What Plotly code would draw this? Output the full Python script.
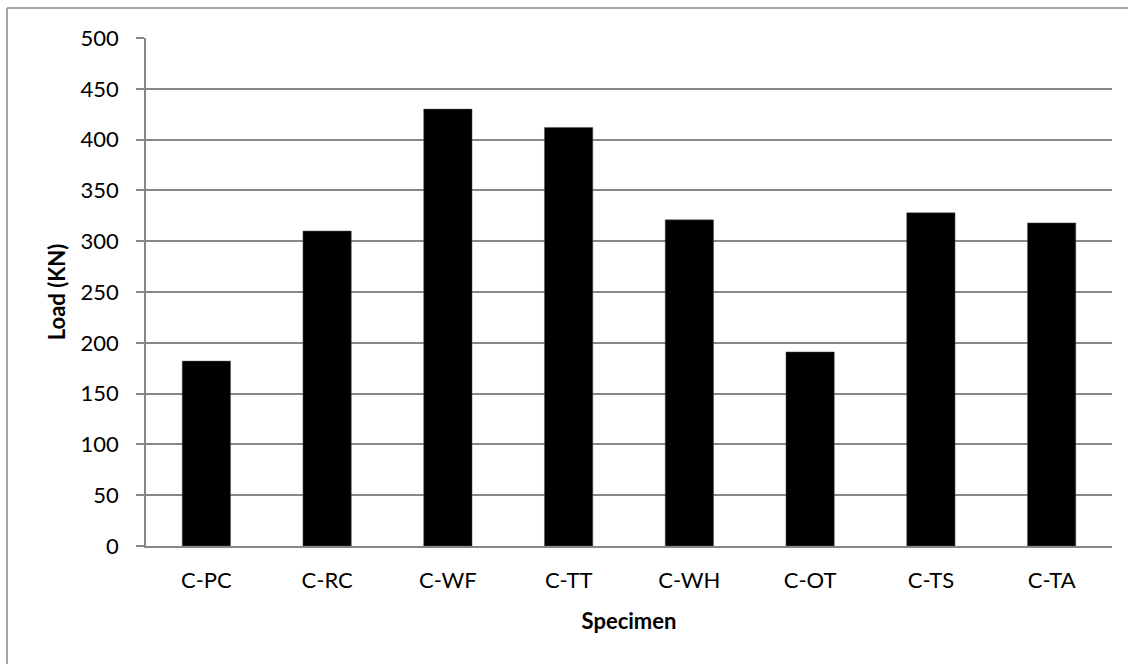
import plotly.graph_objects as go

specimens = ["C-PC", "C-RC", "C-WF", "C-TT", "C-WH", "C-OT", "C-TS", "C-TA"]
loads = [182, 310, 430, 412, 321, 191, 328, 318]
y_ticks = [0, 50, 100, 150, 200, 250, 300, 350, 400, 450, 500]

GRID = "#878787"
FONT = "Lato, Calibri, Carlito, sans-serif"

W, H = 1129, 664
L, R, T, B = 146, 17, 38, 118

fig = go.Figure(
    go.Bar(
        x=specimens,
        y=loads,
        marker=dict(color="#000000", line=dict(color="#555555", width=0.5)),
        width=0.4,
    )
)

pw = W - L - R
ph = H - T - B

bx0 = (7 - L) / pw
bx1 = (W - 1 - L) / pw
by_top = 1 + (T - 8) / ph
by_bot = -(H - T - ph) / ph

fig.update_layout(
    width=W,
    height=H,
    margin=dict(l=L, r=R, t=T, b=B, pad=0),
    paper_bgcolor="white",
    plot_bgcolor="white",
    showlegend=False,
    font=dict(family=FONT, size=22, color="#000000"),
    bargap=0.6,
    shapes=[
        dict(type="line", xref="paper", yref="paper", x0=bx0, x1=bx1, y0=by_top, y1=by_top,
             line=dict(color=GRID, width=1.5), layer="below"),
        dict(type="line", xref="paper", yref="paper", x0=bx0, x1=bx0, y0=by_top, y1=by_bot,
             line=dict(color=GRID, width=1.5), layer="below"),
    ],
)

fig.update_xaxes(
    type="category",
    showline=True,
    linecolor=GRID,
    linewidth=1.5,
    showgrid=False,
    ticks="",
    ticklabelstandoff=14,
    tickfont=dict(family=FONT, size=22, color="#000000"),
    title=dict(text="<b>Specimen</b>", font=dict(family=FONT, size=22, color="#000000"), standoff=21),
)

fig.update_yaxes(
    range=[0, 500],
    tickvals=y_ticks,
    ticktext=[str(v) for v in y_ticks],
    showline=True,
    linecolor=GRID,
    linewidth=1.5,
    showgrid=True,
    gridcolor=GRID,
    gridwidth=1.5,
    zeroline=False,
    ticks="outside",
    ticklen=8,
    tickcolor=GRID,
    tickwidth=1.5,
    ticklabelstandoff=13,
    tickfont=dict(family=FONT, size=22, color="#000000"),
    title=dict(text="<b>Load (KN)</b>", font=dict(family=FONT, size=22, color="#000000"), standoff=9),
)

fig.write_html(
    "out.html",
    config={"displayModeBar": False},
    post_script="document.body.style.margin='0';",
)
